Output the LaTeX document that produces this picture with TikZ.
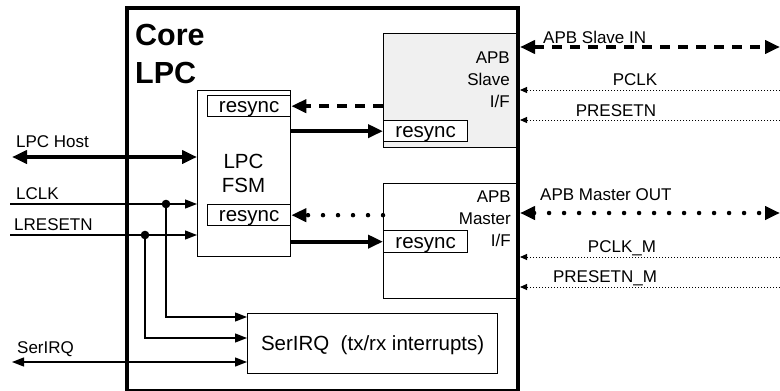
\documentclass[tikz,border=0pt]{standalone}
\usepackage{fontspec}
\setmainfont{Liberation Sans}
\usetikzlibrary{arrows.meta}
\tikzset{
  bigtip/.tip={Triangle[length=15pt,width=13pt]},
  midtip/.tip={Triangle[length=12pt,width=9pt]},
  smalltip/.tip={Triangle[length=7pt,width=6pt]},
}
\begin{document}
\begin{tikzpicture}[x=1pt,y=-1pt,
  lab/.style={font=\fontsize{17}{22}\selectfont, inner sep=0pt},
  big/.style={font=\fontsize{20.5}{24}\selectfont, inner sep=0pt},
  box/.style={draw, line width=1.3pt, inner sep=0pt, anchor=north west},
  syncbox/.style={box, fill=white, font=\fontsize{20.5}{24}\selectfont,
    minimum height=21pt, text height=15pt, text depth=2pt},
  fat/.style={line width=4pt},
  thin/.style={line width=1.3pt},
  dashedfat/.style={fat, dash pattern=on 10pt off 8pt},
  dotfat/.style={line width=4.5pt, line cap=round, dash pattern=on 0pt off 15pt},
  dotthin/.style={line width=1pt, dash pattern=on 1pt off 2pt},
]
\useasboundingbox (0,0) rectangle (780,391);

% functional blocks
\node[box, fill=gray!12, minimum width=133pt, minimum height=114pt] (slave) at (383,33) {};
\node[box, minimum width=133pt, minimum height=115pt] (master) at (383,183) {};
\node[box, minimum width=93pt, minimum height=166pt] (fsm) at (197,90) {};
\node[syncbox, minimum width=83pt] (rsA) at (207,95) {resync};
\node[syncbox, minimum width=83pt] (rsB) at (207,204) {resync};
\node[syncbox, minimum width=84pt] (rsC) at (383,120) {resync};
\node[syncbox, minimum width=84pt, minimum height=22pt] (rsD) at (383,230) {resync};
\node[box, minimum width=250pt, minimum height=60pt, font=\fontsize{20.5}{24}\selectfont,
  text height=15pt, text depth=1pt] (ser) at (247,313) {SerIRQ~~(tx/rx interrupts)};

% core outline
\node[draw, line width=4pt, inner sep=0pt, minimum width=391pt, minimum height=383pt,
  anchor=north west] (core) at (125,6) {};

% block texts (base anchor = baseline of the last line)
\node[font=\fontsize{30.5}{38}\selectfont\bfseries, anchor=base west, align=left,
  inner sep=0pt] (title) at (135,83) {Core\\LPC};
\node[big, anchor=base, align=center] (fsmtxt) at (243.5,192) {LPC\\FSM};
\node[lab, anchor=base east, align=right] (slvtxt) at (510,107) {APB\\Slave\\I/F};
\node[lab, anchor=base east, align=right] (msttxt) at (511,246) {APB\\Master\\I/F};

% internal connections
\draw[dashedfat, -{bigtip}] (slave.west |- rsA.east) -- (rsA.east);
\draw[fat, -{bigtip}] (fsm.east |- rsC.west) -- (rsC.west);
\draw[dotfat, -{bigtip}] (master.west |- rsB.east) -- (rsB.east);
\draw[fat, -{bigtip}] (fsm.east |- rsD.west) -- (rsD.west);

% left-hand ports
\coordinate (hostL) at (12,157);
\coordinate (clkL) at (10,204);
\coordinate (rstL) at (10,235);
\coordinate (irqL) at (12,362);
\coordinate (jclk) at (166,204);
\coordinate (jrst) at (145,235);
\draw[fat, {bigtip}-{bigtip}] (hostL) -- (hostL -| fsm.west);
\draw[thin, -{midtip}] (clkL) -- (clkL -| fsm.west);
\draw[thin, -{midtip}] (rstL) -- (rstL -| fsm.west);
\draw[thin, -{midtip}] (jclk) |- (ser.west |- 0,317);
\draw[thin, -{midtip}] (jrst) |- (ser.west |- 0,338);
\draw[thin, {midtip}-{midtip}] (irqL) -- (irqL -| ser.west);
\fill (jclk) circle (4.3pt);
\fill (jrst) circle (4.3pt);

\node[lab, anchor=base west] (hostlbl) at (16,147) {LPC Host};
\node[lab, anchor=base west] (clklbl) at (16,199) {LCLK};
\node[lab, anchor=base west] (rstlbl) at (14,230) {LRESETN};
\node[lab, anchor=base west] (irqlbl) at (17,353) {SerIRQ};

% right-hand ports
\coordinate (slvR) at (780,47);
\coordinate (pclkR) at (780,90);
\coordinate (prstR) at (780,120);
\coordinate (mstR) at (780,213);
\coordinate (pclkmR) at (780,257);
\coordinate (prstmR) at (780,287);
\draw[dashedfat, {bigtip}-{bigtip}] (slvR -| core.east) -- (slvR);
\draw[dotthin, -{smalltip}] (pclkR) -- (pclkR -| core.east);
\draw[dotthin, -{smalltip}] (prstR) -- (prstR -| core.east);
\draw[dotfat, {bigtip}-{bigtip}] (mstR -| core.east) -- (mstR);
\draw[dotthin, -{smalltip}] (pclkmR) -- (pclkmR -| core.east);
\draw[dotthin, -{smalltip}] (prstmR) -- (prstmR -| core.east);

\node[lab, anchor=base west] (slvlbl) at (543,43) {APB Slave IN};
\node[lab, anchor=base] (pclklbl) at (635,85) {PCLK};
\node[lab, anchor=base] (prstlbl) at (616,116) {PRESETN};
\node[lab, anchor=base west] (mstlbl) at (540,200) {APB Master OUT};
\node[lab, anchor=base] (pclkmlbl) at (622,252) {PCLK\_M};
\node[lab, anchor=base] (prstmlbl) at (605,282) {PRESETN\_M};
\end{tikzpicture}
\end{document}
